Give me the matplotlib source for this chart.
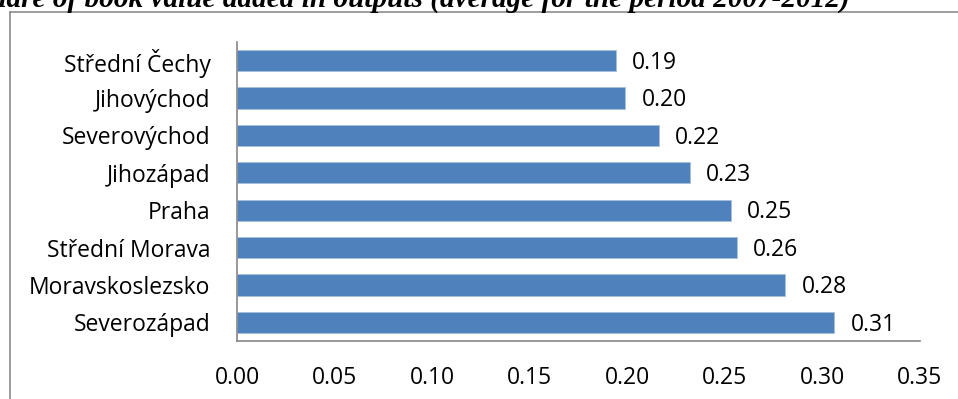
import matplotlib
matplotlib.use("Agg")
import matplotlib.pyplot as plt
from matplotlib.lines import Line2D

regions = ["Střední Čechy", "Jihovýchod", "Severovýchod", "Jihozápad",
           "Praha", "Střední Morava", "Moravskoslezsko", "Severozápad"]
shares = [0.194, 0.199, 0.216, 0.232, 0.253, 0.256, 0.281, 0.306]
value_labels = ["0.19", "0.20", "0.22", "0.23", "0.25", "0.26", "0.28", "0.31"]
x_ticks = [0.00, 0.05, 0.10, 0.15, 0.20, 0.25, 0.30, 0.35]

plt.rcParams["font.family"] = ["Open Sans", "DejaVu Sans"]
FS = 16.5

W, H = 958, 399
fig = plt.figure(figsize=(W / 100, H / 100), dpi=100)

# axes placed in pixel coordinates
left, right, top, bottom = 237, 920, 42, 341
ax = fig.add_axes([left / W, 1 - bottom / H, (right - left) / W, (bottom - top) / H])

y = list(range(len(regions)))
ax.barh(y, shares, height=0.57, color="#4F81BD", edgecolor="#A7C0DE", linewidth=0.6)
for yi, v, lab in zip(y, shares, value_labels):
    ax.text(v + 0.0085, yi + 0.06, lab, va="center", ha="left", fontsize=FS, color="black")

ax.set_ylim(len(regions) - 0.5, -0.5)
ax.set_xlim(0, 0.35)
ax.set_yticks(y)
ax.set_yticklabels(regions, fontsize=FS)
ax.set_xticks(x_ticks)
ax.set_xticklabels([f"{t:.2f}" for t in x_ticks], fontsize=FS)
ax.tick_params(axis="both", length=0)
ax.tick_params(axis="y", pad=19)
ax.tick_params(axis="x", pad=18)
for s in ["top", "right"]:
    ax.spines[s].set_visible(False)
for s in ["left", "bottom"]:
    ax.spines[s].set_color("#868686")
    ax.spines[s].set_linewidth(1.2)

# outer chart frame (left and top edges visible)
fig.add_artist(Line2D([10 / W, 10 / W], [0, 1 - 11.5 / H], transform=fig.transFigure,
                      color="#8c8c8c", linewidth=1.2))
fig.add_artist(Line2D([10 / W, 1], [1 - 11.5 / H, 1 - 11.5 / H], transform=fig.transFigure,
                      color="#8c8c8c", linewidth=1.2))

# title cut off at the top of the picture
fig.text(850 / W, 1 - 7 / H, "Share of book value added in outputs (average for the period 2007-2012)",
         ha="right", va="baseline", fontsize=21.1, fontweight="bold", fontstyle="italic",
         family=["Liberation Serif", "DejaVu Serif"])

fig.savefig("out.png", dpi=100)
